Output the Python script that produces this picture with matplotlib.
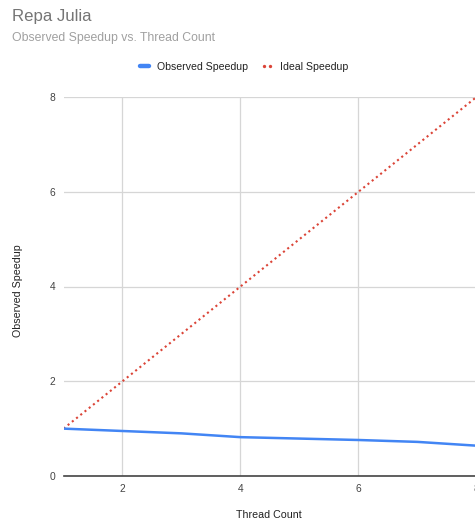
import matplotlib
matplotlib.use('Agg')
from matplotlib import pyplot as plt
from matplotlib.lines import Line2D
from matplotlib.legend_handler import HandlerLine2D

plt.rcParams['font.family'] = ['Liberation Sans', 'DejaVu Sans']

# thread counts and measured / ideal speedup
threads = [1, 2, 3, 4, 5, 6, 7, 8]
observed = [1.0, 0.95, 0.90, 0.82, 0.79, 0.76, 0.72, 0.64]
ideal = [1, 2, 3, 4, 5, 6, 7, 8]

x_ticks = [2, 4, 6, 8]
y_ticks = [0, 2, 4, 6, 8]

W, H = 475, 521
fig = plt.figure(figsize=(W / 100, H / 100), dpi=100)
ax = fig.add_axes([63.5 / W, (H - 476) / H, (476.5 - 63.5) / W, (476 - 97) / H])

ax.plot(threads, ideal, color='#db4437', linestyle=(0, (1, 1.6)), linewidth=1.5,
        zorder=3)
ax.plot(threads, observed, color='#4285f4', linewidth=1.8, zorder=4)

ax.set_xlim(1, 8)
ax.set_ylim(0, 8)
ax.set_xticks(x_ticks)
ax.set_yticks(y_ticks)
ax.grid(True, color='#d6d6d6', linewidth=0.9)
ax.set_axisbelow(True)
for s in ['top', 'right', 'left']:
    ax.spines[s].set_visible(False)
ax.spines['bottom'].set_color('#444444')
ax.spines['bottom'].set_linewidth(1.2)
ax.spines['bottom'].set_zorder(5)
ax.tick_params(axis='both', length=0, labelsize=7.4, labelcolor='#444444')
ax.tick_params(axis='x', pad=6)
ax.tick_params(axis='y', pad=6)

fig.text(269 / W, 1 - 515 / H, 'Thread Count', ha='center', va='center',
         fontsize=7.7, color='#222222')
fig.text(18 / W, 1 - 291 / H, 'Observed Speedup', ha='center', va='center',
         rotation=90, fontsize=7.7, color='#222222')

fig.text(12 / W, 1 - 17 / H, 'Repa Julia', ha='left', va='center',
         fontsize=12.1, color='#757575')
fig.text(12 / W, 1 - 38 / H, 'Observed Speedup vs. Thread Count', ha='left',
         va='center', fontsize=8.85, color='#a0a0a0')

blue_h = Line2D([], [], color='#4285f4', linewidth=3.2, solid_capstyle='round')
red_h = Line2D([], [], color='#db4437', linestyle='None', marker='o',
               markersize=2.4, markeredgewidth=0)
fig.legend([blue_h, red_h], ['Observed Speedup', 'Ideal Speedup'], loc='center',
           bbox_to_anchor=(244 / W, 1 - 67 / H), ncol=2, frameon=False,
           fontsize=7.6, handlelength=0.9, handletextpad=0.75, columnspacing=1.35,
           labelcolor='#222222',
           handler_map={red_h: HandlerLine2D(numpoints=2, marker_pad=0.17)})

fig.savefig('out.png', dpi=100)
